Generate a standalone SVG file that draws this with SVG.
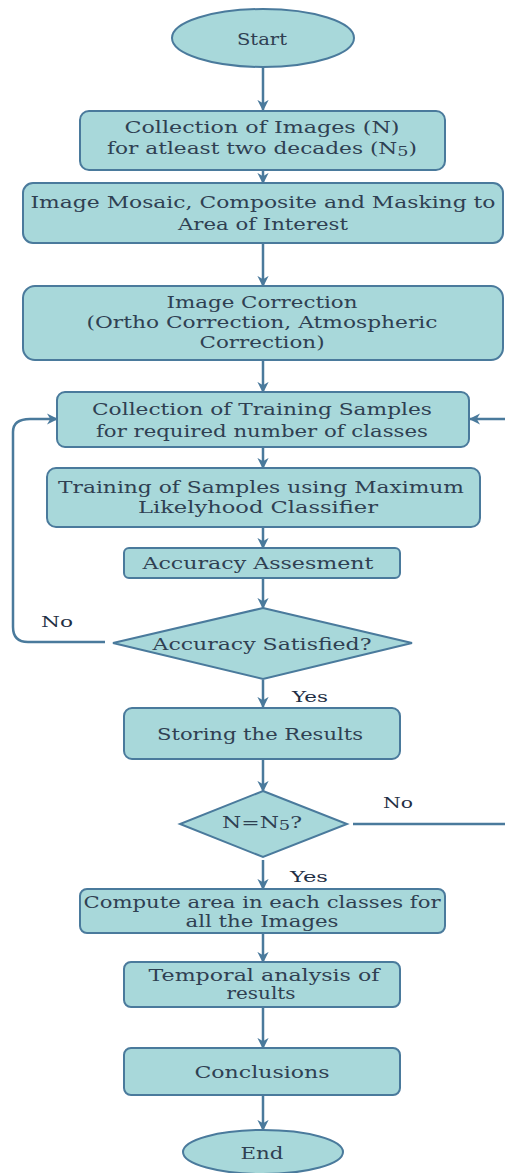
<svg xmlns="http://www.w3.org/2000/svg" width="505" height="1173" viewBox="0 0 505 1173">
<defs>
<style>
.n{fill:#a8d8da;stroke:#4a7a9c;stroke-width:2}
.t{font-family:"DejaVu Serif","Liberation Serif",serif;font-size:16px;fill:#2f4052;text-anchor:middle}
.l{font-family:"DejaVu Serif","Liberation Serif",serif;font-size:15px;fill:#1f2f45}
.c{fill:none;stroke:#4a7a9c;stroke-width:2.5}
</style>
<marker id="ah" viewBox="0 0 10 10" refX="9" refY="5" markerWidth="4.5" markerHeight="4.5" orient="auto" markerUnits="strokeWidth">
<path d="M0,0 L10,5 L0,10 L3,5 Z" fill="#4a7a9c"/>
</marker>
</defs>
<g id="connectors">
<path class="c" d="M263,67 V110" marker-end="url(#ah)"/>
<path class="c" d="M263,170 V183" marker-end="url(#ah)"/>
<path class="c" d="M263,243 V286" marker-end="url(#ah)"/>
<path class="c" d="M263,360 V392" marker-end="url(#ah)"/>
<path class="c" d="M263,447 V468" marker-end="url(#ah)"/>
<path class="c" d="M263,527 V548" marker-end="url(#ah)"/>
<path class="c" d="M263,578 V608" marker-end="url(#ah)"/>
<path class="c" d="M263,680 V707" marker-end="url(#ah)"/>
<path class="c" d="M263,759 V791" marker-end="url(#ah)"/>
<path class="c" d="M263,860 V889" marker-end="url(#ah)"/>
<path class="c" d="M263,933 V962" marker-end="url(#ah)"/>
<path class="c" d="M263,1007 V1048" marker-end="url(#ah)"/>
<path class="c" d="M263,1095 V1130" marker-end="url(#ah)"/>
<path class="c" d="M105,642 H28 Q13,642 13,627 V432 Q13,419 30,419 H57" marker-end="url(#ah)"/>
<path class="c" d="M505,419 H470" marker-end="url(#ah)"/>
<path class="c" d="M353,824 H505"/>
<text class="l" x="41" y="627" textLength="32" lengthAdjust="spacingAndGlyphs">No</text>
<text class="l" x="383" y="808" textLength="30" lengthAdjust="spacingAndGlyphs">No</text>
<text class="l" x="292" y="702" textLength="36" lengthAdjust="spacingAndGlyphs">Yes</text>
<text class="l" x="290" y="882" textLength="38" lengthAdjust="spacingAndGlyphs">Yes</text>
</g>
<g id="start"><ellipse class="n" cx="263" cy="38" rx="91" ry="29"/><text class="t" x="262" y="45" textLength="50" lengthAdjust="spacingAndGlyphs">Start</text></g>
<g id="collect"><rect class="n" x="80" y="111" width="365" height="59" rx="9"/>
<text class="t" x="262" y="133" textLength="275" lengthAdjust="spacingAndGlyphs">Collection of Images (N)</text>
<text class="t" x="262" y="154" textLength="310" lengthAdjust="spacingAndGlyphs">for atleast two decades (N<tspan font-size="13" dy="2">5</tspan><tspan dy="-2">)</tspan></text></g>
<g id="mosaic"><rect class="n" x="23" y="183" width="480" height="60" rx="10"/>
<text class="t" x="263" y="208" textLength="465" lengthAdjust="spacingAndGlyphs">Image Mosaic, Composite and Masking to</text>
<text class="t" x="263" y="230" textLength="170" lengthAdjust="spacingAndGlyphs">Area of Interest</text></g>
<g id="correction"><rect class="n" x="23" y="286" width="480" height="74" rx="12"/>
<text class="t" x="262" y="308" textLength="191" lengthAdjust="spacingAndGlyphs">Image Correction</text>
<text class="t" x="262" y="328" textLength="351" lengthAdjust="spacingAndGlyphs">(Ortho Correction, Atmospheric</text>
<text class="t" x="262" y="348" textLength="125" lengthAdjust="spacingAndGlyphs">Correction)</text></g>
<g id="training"><rect class="n" x="57" y="392" width="412" height="55" rx="8"/>
<text class="t" x="262" y="415" textLength="340" lengthAdjust="spacingAndGlyphs">Collection of Training Samples</text>
<text class="t" x="262" y="437" textLength="332" lengthAdjust="spacingAndGlyphs">for required number of classes</text></g>
<g id="mlc"><rect class="n" x="47" y="468" width="433" height="59" rx="9"/>
<text class="t" x="261" y="493" textLength="406" lengthAdjust="spacingAndGlyphs">Training of Samples using Maximum</text>
<text class="t" x="258" y="513" textLength="240" lengthAdjust="spacingAndGlyphs">Likelyhood Classifier</text></g>
<g id="assess"><rect class="n" x="124" y="548" width="276" height="30" rx="5"/>
<text class="t" x="258" y="569" textLength="231" lengthAdjust="spacingAndGlyphs">Accuracy Assesment</text></g>
<g id="satisfied"><path class="n" d="M263,608 L412,643 L263,679 L113,643 Z"/>
<text class="t" x="262" y="650" textLength="219" lengthAdjust="spacingAndGlyphs">Accuracy Satisfied?</text></g>
<g id="storing"><rect class="n" x="124" y="708" width="276" height="51" rx="8"/>
<text class="t" x="260" y="740" textLength="206" lengthAdjust="spacingAndGlyphs">Storing the Results</text></g>
<g id="nn5"><path class="n" d="M263,791 L347,824 L263,857 L180,824 Z"/>
<text class="t" x="262" y="828" textLength="80" lengthAdjust="spacingAndGlyphs">N=N<tspan font-size="13" dy="2">5</tspan><tspan dy="-2">?</tspan></text></g>
<g id="compute"><rect class="n" x="80" y="889" width="365" height="44" rx="7"/>
<text class="t" x="262" y="908" textLength="357" lengthAdjust="spacingAndGlyphs">Compute area in each classes for</text>
<text class="t" x="262" y="927" textLength="153" lengthAdjust="spacingAndGlyphs">all the Images</text></g>
<g id="temporal"><rect class="n" x="124" y="962" width="276" height="45" rx="7"/>
<text class="t" x="264" y="981" textLength="231" lengthAdjust="spacingAndGlyphs">Temporal analysis of</text>
<text class="t" x="261" y="999" textLength="69" lengthAdjust="spacingAndGlyphs">results</text></g>
<g id="conclusions"><rect class="n" x="124" y="1048" width="276" height="47" rx="7"/>
<text class="t" x="262" y="1078" textLength="135" lengthAdjust="spacingAndGlyphs">Conclusions</text></g>
<g id="end"><ellipse class="n" cx="263" cy="1152" rx="80" ry="22"/>
<text class="t" x="262" y="1159" textLength="43" lengthAdjust="spacingAndGlyphs">End</text></g>
</svg>
